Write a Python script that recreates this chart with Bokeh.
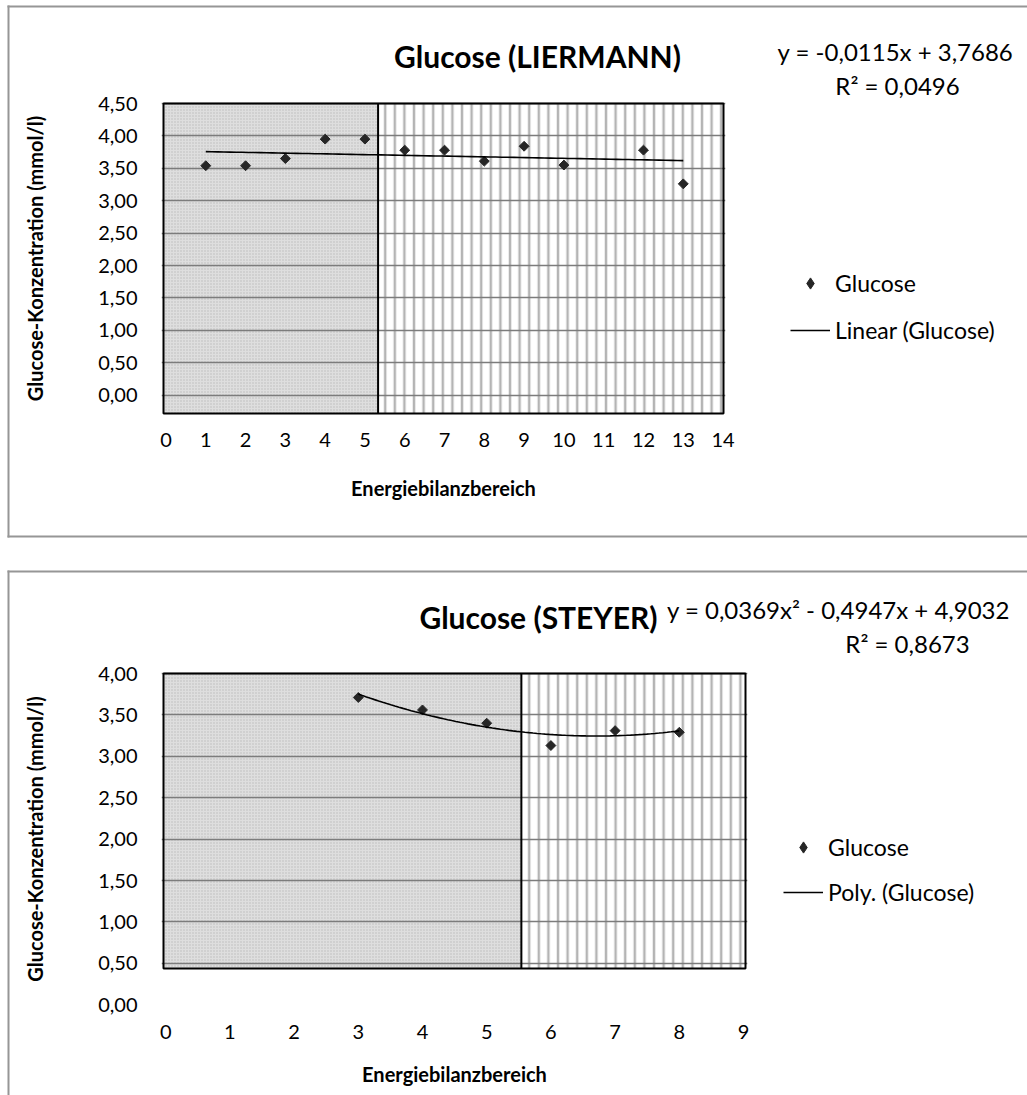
import numpy as np
from bokeh.plotting import figure
from bokeh.layouts import column
from bokeh.models import Range1d, FixedTicker, Label, Legend, LegendItem
from bokeh.embed import file_html
from bokeh.resources import INLINE

FONT = "Lato"

# ---------------- data: chart 1 (LIERMANN) ----------------
LIER_X = [1, 2, 3, 4, 5, 6, 7, 8, 9, 10, 12, 13]
LIER_Y = [3.54, 3.54, 3.65, 3.95, 3.95, 3.78, 3.78, 3.61, 3.84, 3.55, 3.78, 3.26]
LIER_TREND = [-0.0115, 3.7686]          # Excel linear trendline coefficients
LIER_TITLE = "Glucose (LIERMANN)"
LIER_EQ = ["y = -0,0115x + 3,7686", "R² = 0,0496"]
LIER_LEGEND = ["Glucose", "Linear (Glucose)"]
LIER_SPLIT = 5.33                       # border between the two shaded zones
LIER_XTICKS = list(range(0, 15))
LIER_YTICKS = [0.0, 0.5, 1.0, 1.5, 2.0, 2.5, 3.0, 3.5, 4.0, 4.5]
LIER_YLABELS = ["0,00", "0,50", "1,00", "1,50", "2,00", "2,50", "3,00", "3,50", "4,00", "4,50"]

# ---------------- data: chart 2 (STEYER) ----------------
STEY_X = [3, 4, 5, 6, 7, 8]
STEY_Y = [3.71, 3.56, 3.40, 3.13, 3.31, 3.29]
STEY_TREND = [0.0369, -0.4947, 4.9032]  # Excel polynomial trendline coefficients
STEY_TITLE = "Glucose (STEYER)"
STEY_EQ = ["y = 0,0369x² - 0,4947x + 4,9032", "R² = 0,8673"]
STEY_LEGEND = ["Glucose", "Poly. (Glucose)"]
STEY_SPLIT = 5.54
STEY_XTICKS = list(range(0, 10))
STEY_YTICKS = [0.0, 0.5, 1.0, 1.5, 2.0, 2.5, 3.0, 3.5, 4.0]
STEY_YLABELS = ["0,00", "0,50", "1,00", "1,50", "2,00", "2,50", "3,00", "3,50", "4,00"]

X_TITLE = "Energiebilanzbereich"
Y_TITLE = "Glucose-Konzentration (mmol/l)"

TICK_PX = "20px"
AXT_PX = "20px"
LEG_PX = "23px"
EQ_PX = "24px"
TITLE_PX = "30px"
BORDER_COLOR = "#969696"
MARK_COLOR = "#262626"


def no_align(p):
    if "frame_align" in p.properties():
        p.frame_align = False
    return p


def make_main(xs, ys, coef, split, xticks, yticks, ylabels, g):
    X0, SX, Y0, SY = g["X0"], g["SX"], g["Y0"], g["SY"]
    cx, cy, W, H = g["cx"], g["cy"], g["W"], g["H"]
    fl, fr, ft, fb = g["frame"]
    sl, sr, st, sb = g["shape"]

    def dx(px):
        return (px - X0) / SX

    def dy(py):
        return (Y0 - py) / SY

    p = figure(frame_width=fr - fl, frame_height=fb - ft,
               x_range=Range1d(dx(fl), dx(fr)), y_range=Range1d(dy(fb), dy(ft)),
               output_backend="svg", toolbar_location=None, tools="",
               min_border_left=fl - cx, min_border_right=cx + W - fr,
               min_border_top=ft - cy, min_border_bottom=cy + H - fb,
               outline_line_color=None, background_fill_alpha=0,
               border_fill_alpha=0)
    no_align(p)

    x_lo, x_hi, y_lo, y_hi = dx(sl), dx(sr), dy(sb), dy(st)

    # shaded zones
    p.quad(left=[x_lo], right=[split], bottom=[y_lo], top=[y_hi],
           fill_color="#dedede", hatch_pattern="dot", hatch_color="#bababa",
           hatch_scale=3, hatch_weight=1, line_color=None, level="image")
    p.quad(left=[split], right=[x_hi], bottom=[y_lo], top=[y_hi],
           fill_color="white", hatch_pattern="vertical_line", hatch_color="#b4b4b4",
           hatch_scale=9.6, hatch_weight=2.5, line_color=None, level="image")

    # horizontal grid lines (only inside the shaded box)
    p.xgrid.visible = False
    p.ygrid.ticker = FixedTicker(ticks=[t for t in yticks if y_lo <= t <= y_hi])
    p.ygrid.grid_line_color = "#7c7c7c"
    p.ygrid.grid_line_width = 1.5

    # outline + separator
    p.quad(left=[x_lo], right=[x_hi], bottom=[y_lo], top=[y_hi],
           fill_color=None, line_color="black", line_width=2)
    p.segment(x0=[split], x1=[split], y0=[y_lo], y1=[y_hi], line_color="black", line_width=2)

    # data + trend
    p.scatter(xs, ys, marker="square", angle=np.pi / 4, size=7, color=MARK_COLOR)
    tx = np.linspace(min(xs), max(xs), 80)
    p.line(tx, np.polyval(coef, tx), line_color="black", line_width=1.6)

    # axes
    for ax in (p.xaxis[0], p.yaxis[0]):
        ax.axis_line_color = None
        ax.major_tick_line_color = None
        ax.minor_tick_line_color = None
        ax.major_label_text_font = FONT
        ax.major_label_text_font_size = TICK_PX
        ax.major_label_text_color = "black"
        ax.axis_label_text_font = FONT
        ax.axis_label_text_font_size = AXT_PX
        ax.axis_label_text_font_style = "bold"
        ax.axis_label_text_color = "black"
    p.xaxis.ticker = FixedTicker(ticks=xticks)
    p.yaxis.ticker = FixedTicker(ticks=yticks)
    p.yaxis.major_label_overrides = {t: l for t, l in zip(yticks, ylabels)}
    p.xaxis.axis_label = X_TITLE
    p.yaxis.axis_label = Y_TITLE
    p.yaxis.major_label_standoff = g["y_std"]
    p.yaxis.axis_label_standoff = g["y_lab_std"]
    p.xaxis.major_label_standoff = g["x_std"]
    p.xaxis.axis_label_standoff = g["x_lab_std"]
    return p


def make_overlay(xs, ys, coef, title, eq, leg, g):
    # transparent canvas laid over the chart: title, trendline equation, legend, chart border
    cx, cy, W, H = g["cx"], g["cy"], g["W"], g["H"]
    o = figure(frame_width=W, frame_height=H, x_range=Range1d(0, W), y_range=Range1d(H, 0),
               x_axis_type=None, y_axis_type=None, min_border=0,
               output_backend="svg", toolbar_location=None, tools="",
               outline_line_color=None, background_fill_alpha=0, border_fill_alpha=0,
               styles={"margin-top": f"-{H}px"})
    no_align(o)
    o.grid.visible = False
    bx, by0, by1 = g["border"]
    o.segment(x0=[bx - cx], x1=[bx - cx], y0=[by0 - cy - 1], y1=[by1 - cy + 1],
              line_color=BORDER_COLOR, line_width=2)
    o.segment(x0=[bx - cx - 1], x1=[W], y0=[by0 - cy], y1=[by0 - cy],
              line_color=BORDER_COLOR, line_width=2)
    if g["border_bottom"]:
        o.segment(x0=[bx - cx - 1], x1=[W], y0=[by1 - cy], y1=[by1 - cy],
                  line_color=BORDER_COLOR, line_width=2)
    tx_, ty_ = g["title"]
    o.add_layout(Label(x=tx_ - cx, y=ty_ - cy, text=title, text_align="center",
                       text_baseline="middle", text_font=FONT, text_font_size=TITLE_PX,
                       text_font_style="bold", text_color="black"))
    for (ex, ey), t in zip(g["eq"], eq):
        o.add_layout(Label(x=ex - cx, y=ey - cy, text=t, text_align="center",
                           text_baseline="middle", text_font=FONT,
                           text_font_size=EQ_PX, text_color="black"))

    # hidden copies of the series, used only as legend swatches
    sw = o.scatter(xs, ys, marker="diamond", size=11, color=MARK_COLOR, visible=False)
    tx = np.linspace(min(xs), max(xs), 20)
    sl = o.line(tx, np.polyval(coef, tx), line_color="black", line_width=1.6, visible=False)
    legend = Legend(items=[LegendItem(label=leg[0], renderers=[sw]),
                           LegendItem(label=leg[1], renderers=[sl])],
                    location=g["legend"], orientation="vertical",
                    glyph_width=40, glyph_height=28, label_height=28,
                    spacing=g["leg_sp"], padding=0, margin=0, label_standoff=5,
                    border_line_color=None, background_fill_alpha=0,
                    inactive_fill_alpha=0,
                    label_text_font=FONT, label_text_font_size=LEG_PX,
                    label_text_color="black")
    o.add_layout(legend, "center")
    return o


G1 = dict(X0=165.5, SX=39.79, Y0=394.6, SY=64.8,
          cx=5, cy=3, W=1022, H=535,
          frame=(161, 725, 101, 415), shape=(163, 723, 103, 413),
          y_std=18, y_lab_std=48, x_std=11, x_lab_std=26,
          legend=(785, 194), leg_sp=19,
          border=(8, 6, 536), border_bottom=True,
          title=(537, 55), eq=[(895, 51), (897, 85)])

G2 = dict(X0=165.2, SX=64.2, Y0=1004.2, SY=82.8,
          cx=5, cy=568, W=1022, H=527,
          frame=(161, 747, 671, 1006), shape=(163, 745, 673, 968),
          y_std=18, y_lab_std=48, x_std=12, x_lab_std=20,
          legend=(778, 189), leg_sp=17,
          border=(8, 571, 1100), border_bottom=False,
          title=(538, 616), eq=[(838, 609), (907, 643)])

m1 = make_main(LIER_X, LIER_Y, LIER_TREND, LIER_SPLIT,
               LIER_XTICKS, LIER_YTICKS, LIER_YLABELS, G1)
o1 = make_overlay(LIER_X, LIER_Y, LIER_TREND, LIER_TITLE, LIER_EQ, LIER_LEGEND, G1)
m2 = make_main(STEY_X, STEY_Y, STEY_TREND, STEY_SPLIT,
               STEY_XTICKS, STEY_YTICKS, STEY_YLABELS, G2)
m2.styles = {"margin-top": "30px"}
o2 = make_overlay(STEY_X, STEY_Y, STEY_TREND, STEY_TITLE, STEY_EQ, STEY_LEGEND, G2)

layout = column(m1, o1, m2, o2, spacing=0, margin=(3, 0, 0, 5))
open("out.html", "w").write(file_html(layout, INLINE))
